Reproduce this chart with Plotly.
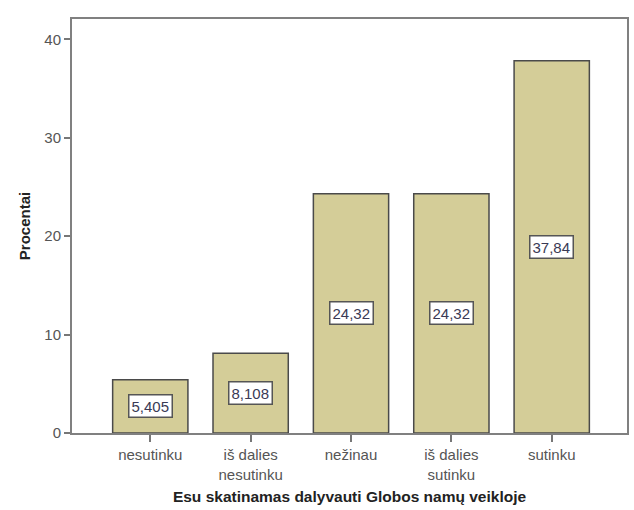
import plotly.graph_objects as go

categories = ["nesutinku", "iš dalies<br>nesutinku", "nežinau", "iš dalies<br>sutinku", "sutinku"]
values = [5.405, 8.108, 24.32, 24.32, 37.84]
y_ticks = [0, 10, 20, 30, 40]

x_title = "Esu skatinamas dalyvauti Globos namų veikloje"
y_title = "Procentai"

labels = [f"{v:.4g}".replace(".", ",") for v in values]
xs = list(range(len(categories)))

FONT = "Liberation Sans, Arial, sans-serif"

fig = go.Figure()
fig.add_trace(go.Bar(
    x=xs, y=values, width=0.75,
    marker=dict(color="#d4cd98", line=dict(color="#4a4a4a", width=1.5)),
    hoverinfo="skip",
))

for x, v, t in zip(xs, values, labels):
    fig.add_annotation(
        x=x, y=v / 2, text=t, showarrow=False,
        font=dict(family=FONT, size=15, color="#3a3a55"),
        bgcolor="white", bordercolor="#555555", borderwidth=1.5, borderpad=2,
    )

axis_font = dict(family=FONT, size=15, color="#555555")

fig.update_layout(
    width=634, height=510,
    margin=dict(l=72, r=7, t=19, b=77, autoexpand=False),
    paper_bgcolor="white", plot_bgcolor="white",
    showlegend=False,
    xaxis=dict(
        range=[-0.78, 4.75],
        tickmode="array", tickvals=xs, ticktext=categories,
        ticks="outside", ticklen=7, tickwidth=1.5, tickcolor="#777777",
        showline=True, linecolor="#808080", linewidth=2, mirror=True,
        showgrid=False, zeroline=False, automargin=False,
        tickfont=axis_font,
        title=dict(text=f"<b>{x_title}</b>", standoff=10,
                   font=dict(family=FONT, size=15.5, color="#222222")),
    ),
    yaxis=dict(
        range=[0, 42.07],
        tickmode="array", tickvals=y_ticks,
        ticks="outside", ticklen=6, tickwidth=1.5, tickcolor="#777777",
        showline=True, linecolor="#808080", linewidth=2, mirror=True,
        showgrid=False, zeroline=False, automargin=False,
        tickfont=axis_font,
        title=dict(text=f"<b>{y_title}</b>", standoff=10,
                   font=dict(family=FONT, size=15, color="#222222")),
    ),
)

fig.write_html("out.html", config={"displayModeBar": False},
               post_script="document.body.style.margin='0';")
